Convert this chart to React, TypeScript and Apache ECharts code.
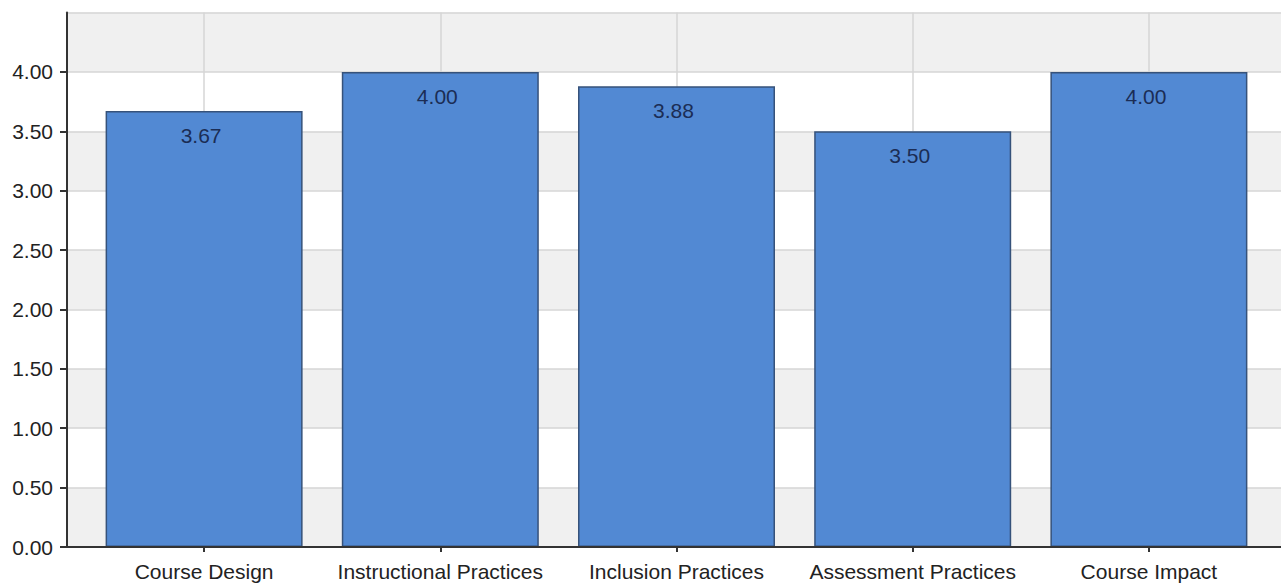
import React, { useEffect, useRef } from "react";
import * as echarts from "echarts";

const categories = [
  "Course Design",
  "Instructional Practices",
  "Inclusion Practices",
  "Assessment Practices",
  "Course Impact",
];
const values = [3.67, 4.0, 3.88, 3.5, 4.0];
const yMin = 0;
const yMax = 4.5;
const yLabelMax = 4.0;
const yInterval = 0.5;

const FONT = "'Liberation Sans', Arial, sans-serif";

export default function App() {
  const ref = useRef<HTMLDivElement>(null);
  useEffect(() => {
    if (!ref.current) return;
    const chart = echarts.init(ref.current, null, { renderer: "svg" });
    const top = 12.5;
    const bottom = 38;
    const plotH = 585 - top - bottom;
    const topD = top + (plotH * (yMax - yLabelMax)) / (yMax - yMin);
    chart.setOption({
      animation: false,
      backgroundColor: "#ffffff",
      grid: [
        { left: 67, right: 0, top, bottom, containLabel: false },
        { left: 86, right: 14, top, bottom, containLabel: false },
        { left: 204, right: 132, top, bottom, containLabel: false },
        { left: 67, right: 0, top: topD, bottom, containLabel: false },
      ],
      xAxis: [
        {
          gridIndex: 0,
          type: "category",
          data: [""],
          z: 3,
          axisLine: { show: true, lineStyle: { color: "#333333", width: 2 } },
          axisTick: { show: false },
          axisLabel: { show: false },
          splitLine: { show: false },
        },
        {
          gridIndex: 1,
          type: "category",
          data: categories,
          z: 3,
          axisLine: { show: false },
          axisTick: {
            show: true,
            alignWithLabel: true,
            length: 5,
            lineStyle: { color: "#333333", width: 2 },
          },
          axisLabel: {
            show: true,
            margin: 14,
            fontSize: 21,
            fontFamily: FONT,
            color: "#222222",
            interval: 0,
          },
          splitLine: { show: false },
        },
        {
          gridIndex: 2,
          type: "category",
          data: categories,
          boundaryGap: false,
          z: 1,
          axisLine: { show: false },
          axisTick: { show: false },
          axisLabel: { show: false },
          splitLine: { show: true, lineStyle: { color: "#d6d6d6", width: 1.5 } },
        },
        {
          gridIndex: 3,
          type: "category",
          data: [""],
          show: false,
        },
      ],
      yAxis: [
        {
          gridIndex: 0,
          type: "value",
          min: yMin,
          max: yMax,
          interval: yInterval,
          z: 0,
          axisLine: { show: true, lineStyle: { color: "#333333", width: 2 } },
          axisTick: { show: false },
          axisLabel: { show: false },
          splitLine: { show: true, lineStyle: { color: "#d6d6d6", width: 1.5 } },
          splitArea: { show: true, areaStyle: { color: ["#f0f0f0", "#ffffff"] } },
        },
        {
          gridIndex: 1,
          type: "value",
          min: yMin,
          max: yMax,
          interval: yInterval,
          show: false,
        },
        {
          gridIndex: 2,
          type: "value",
          min: yMin,
          max: yMax,
          interval: yInterval,
          show: false,
        },
        {
          gridIndex: 3,
          type: "value",
          min: yMin,
          max: yLabelMax,
          interval: yInterval,
          z: 3,
          axisLine: { show: false },
          axisTick: { show: true, length: 7, lineStyle: { color: "#333333", width: 2 } },
          axisLabel: {
            show: true,
            margin: 14,
            fontSize: 21,
            fontFamily: FONT,
            color: "#222222",
            formatter: (v: number) => v.toFixed(2),
          },
          splitLine: { show: false },
          splitArea: { show: false },
        },
      ],
      series: [
        {
          type: "bar",
          xAxisIndex: 1,
          yAxisIndex: 1,
          data: values,
          barWidth: 197,
          z: 2,
          itemStyle: {
            color: "#5289d3",
            borderColor: "#36527a",
            borderWidth: 1.5,
          },
          label: {
            show: true,
            position: "insideTop",
            distance: 14,
            offset: [-3, 0],
            fontSize: 21,
            fontFamily: FONT,
            color: "#1b2d55",
            formatter: (p: any) => Number(p.value).toFixed(2),
          },
        },
      ],
    });
    return () => chart.dispose();
  }, []);
  return (
    <div
      ref={ref}
      style={{ position: "fixed", left: 0, top: 0, width: 1281, height: 585, background: "#fff" }}
    />
  );
}
